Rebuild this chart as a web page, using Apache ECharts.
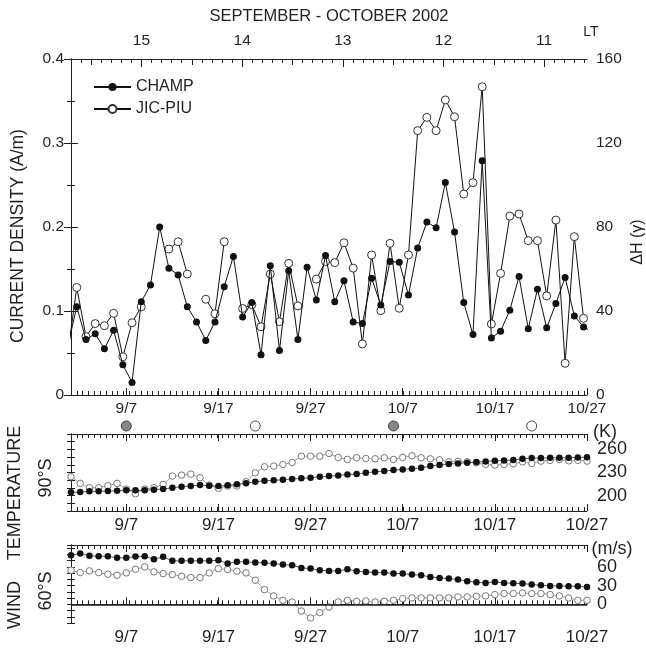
<!DOCTYPE html>
<html>
<head>
<meta charset="utf-8">
<script src="https://cdn.jsdelivr.net/npm/echarts@6/dist/echarts.min.js"></script>
<style>
  html, body { margin: 0; padding: 0; background: #fff; }
  #chart { width: 646px; height: 652px; }
</style>
</head>
<body>
<div id="chart"></div>
<script>
// ---------------- data ----------------
const dateTicks = ['9/7', '9/17', '9/27', '10/7', '10/17', '10/27'];
const ltHours = [15, 14, 13, 12, 11];
const newMoons = ['9/7', '10/6'];
const fullMoons = ['9/21', '10/21'];

// Daily values at the satellite pass (about 15 UT), 31 Aug .. 27 Oct 2002
const passFirstDay = '8/31';
const passHour = 15;
// Equatorial current density from CHAMP, A/m
const champCurrent = [
  0.057,
  0.105, 0.066, 0.073, 0.055, 0.077, 0.036, 0.015, 0.111, 0.131, 0.200,
  0.151, 0.143, 0.105, 0.087, 0.065, 0.087, 0.129, 0.165, 0.093, 0.110,
  0.048, 0.154, 0.053, 0.148, 0.066, 0.152, 0.113, 0.166, 0.111, 0.136,
  0.087, 0.085, 0.139, 0.107, 0.159, 0.158, 0.119, 0.175, 0.206, 0.199,
  0.253, 0.194, 0.110, 0.072, 0.279, 0.068, 0.076, 0.101, 0.141, 0.079,
  0.126, 0.080, 0.109, 0.140, 0.094, 0.081,
  0.075
];
// Ground magnetometer ΔH, Jicamarca minus Piura, γ (null = no record)
const jicPiuDeltaH = [
  19.0,
  51.2, 27.8, 34.0, 33.0, 38.9, 18.2, 34.4, 42.0, null, null,
  69.5, 73.0, 57.6, null, 45.6, 38.7, 73.0, null, 41.2, 43.0,
  32.5, 57.6, 34.9, 62.7, 42.4, null, 55.2, 63.5, 63.0, 72.5,
  60.4, 24.3, 66.7, 40.2, 72.2, 41.3, 66.7, 125.9, 132.2, 125.9,
  140.5, 132.5, 95.7, 101.1, 146.8, 33.8, 57.9, 85.2, 86.2, 73.5,
  73.5, 47.2, 83.3, 15.1, 75.4, 36.5,
  null
];

// Daily stratospheric values at 00 UT, 1 Sep .. 27 Oct 2002
const dailyFirstDay = '9/1';
// Polar (90°S) temperature, K
const tempSeriesA = [
  204.2, 204.6, 205.5, 205.5, 205.9, 206.3, 206.8, 206.8, 206.8, 207.6,
  208.5, 210.2, 211.5, 212.4, 213.7, 212.8, 212.4, 213.3, 214.6, 215.9,
  218.0, 219.3, 219.8, 220.6, 221.5, 222.4, 223.2, 224.5, 225.3, 226.2,
  227.5, 227.9, 229.6, 230.9, 231.8, 233.1, 234.0, 234.8, 236.1, 238.3,
  239.6, 240.9, 241.8, 242.6, 243.5, 244.4, 245.2, 245.7, 246.1, 247.8,
  248.7, 248.7, 249.1, 249.1, 249.1, 249.6, 249.9
];
const tempSeriesB = [
  224.5, 215.9, 210.2, 210.2, 212.8, 215.9, 208.5, 202.4, 208.5, 210.2,
  214.6, 225.3, 226.6, 227.9, 223.2, 213.7, 209.4, 212.4, 212.4, 218.0,
  229.6, 237.4, 238.3, 240.5, 243.0, 251.2, 251.2, 251.2, 254.7, 249.6,
  247.0, 249.1, 248.2, 247.8, 249.1, 246.9, 249.6, 251.7, 249.1, 247.8,
  246.5, 243.9, 244.4, 243.9, 242.6, 240.5, 239.6, 240.5, 241.3, 243.9,
  241.8, 244.8, 245.7, 246.9, 245.2, 245.7, 244.8
];
// Zonal wind at 60°S, m/s
const windSeriesA = [
  78.7, 81.3, 77.6, 77.0, 77.0, 74.4, 74.4, 76.5, 77.0, 72.2,
  76.0, 69.6, 69.6, 69.6, 69.6, 69.6, 70.6, 65.3, 68.0, 68.0,
  66.9, 66.4, 65.3, 63.7, 62.6, 58.3, 57.2, 54.6, 53.5, 53.5,
  56.2, 53.0, 51.9, 50.8, 50.8, 49.2, 49.2, 47.6, 46.5, 43.9,
  42.3, 41.2, 39.6, 36.9, 35.3, 34.2, 35.8, 34.2, 33.7, 33.2,
  31.6, 30.5, 29.4, 29.4, 28.9, 28.9, 27.8
];
const windSeriesB = [
  54.6, 50.8, 53.5, 50.8, 48.2, 46.5, 50.3, 56.2, 59.9, 51.9,
  49.2, 47.6, 44.9, 42.8, 42.8, 50.3, 57.2, 55.6, 53.0, 50.3,
  38.5, 23.5, 13.4, 6.4, 3.7, -10.7, -21.9, -13.4, -4.3, 3.7,
  6.4, 4.8, 5.3, 3.7, 4.8, 6.4, 9.1, 10.2, 10.2, 10.2,
  10.2, 10.2, 11.8, 11.8, 12.8, 13.4, 15.5, 17.1, 17.1, 18.2,
  17.1, 17.1, 15.5, 13.4, 10.2, 6.4, 6.4
];

// ---------------- helpers ----------------
const FONT = '"Liberation Sans", Arial, Helvetica, sans-serif';
const INK = '#231f20';

// days since 1 Sep 2002 00:00
function dayOf(md) {
  const [m, d] = md.split('/').map(Number);
  if (m === 8) return d - 32;
  if (m === 9) return d - 1;
  return d + 29;
}
const X_MIN = dayOf('9/1');
const X_MAX = dayOf('10/27');
// local time of the satellite pass at the two ends of the period
const LT_START = 15.70;
const LT_END = 10.574;
const DAY_TICK_STEP = 0.633;

const tickDays = dateTicks.map(dayOf);
const tickName = {};
dateTicks.forEach(t => { tickName[dayOf(t)] = t; });

// local-time tick marks: hours (long), half hours (medium), tenths (short)
const ltHalfTicks = ltHours.map(h => h + 0.5).filter(h => h < LT_START);
const ltTenthTicks = [];
for (let t = Math.ceil(LT_END * 10); t <= Math.floor(LT_START * 10); t++) {
  if (t % 5 !== 0) ltTenthTicks.push(t / 10);
}

function seriesPoints(values, firstDay, hourOffset) {
  const d0 = dayOf(firstDay) + hourOffset / 24;
  return values.map((v, i) => [d0 + i, v]);
}

const lineW = 1;
const axisLine = { show: true, lineStyle: { color: INK, width: 1 } };
const tick = (len, extra) => Object.assign({ show: true, inside: true, length: len, lineStyle: { color: INK } }, extra || {});

function bareAxis(grid, pos, min, max, extra) {
  return Object.assign({
    type: 'value', gridIndex: grid, position: pos, min, max,
    axisLine: { show: false }, axisLabel: { show: false }, splitLine: { show: false }
  }, extra);
}

function dateAxes(grid, labelSize, topKind) {
  const axes = [];
  axes.push({
    type: 'value', gridIndex: grid, position: 'bottom', min: X_MIN, max: X_MAX,
    axisLine: axisLine,
    axisTick: tick(7, { customValues: tickDays }),
    axisLabel: {
      show: true, customValues: tickDays, formatter: v => tickName[v] || '',
      fontSize: labelSize, fontFamily: FONT, color: INK, margin: 6
    },
    splitLine: { show: false }
  });
  axes.push(bareAxis(grid, 'bottom', X_MIN, X_MAX, { interval: DAY_TICK_STEP, axisTick: tick(4) }));
  if (topKind === 'date') {
    axes.push({
      type: 'value', gridIndex: grid, position: 'top', min: X_MIN, max: X_MAX,
      axisLine: axisLine,
      axisTick: tick(7, { customValues: tickDays }),
      axisLabel: { show: false }, splitLine: { show: false }
    });
    axes.push(bareAxis(grid, 'top', X_MIN, X_MAX, { interval: DAY_TICK_STEP, axisTick: tick(4) }));
  } else {
    axes.push({
      type: 'value', gridIndex: grid, position: 'top', min: LT_END, max: LT_START, inverse: true,
      axisLine: axisLine,
      axisTick: tick(8, { customValues: ltHours }),
      axisLabel: {
        show: true, customValues: ltHours, formatter: v => String(v),
        fontSize: 15.5, fontFamily: FONT, color: INK, margin: 10
      },
      splitLine: { show: false }
    });
    axes.push(bareAxis(grid, 'top', LT_END, LT_START, { inverse: true, axisTick: tick(6, { customValues: ltHalfTicks }) }));
    axes.push(bareAxis(grid, 'top', LT_END, LT_START, { inverse: true, axisTick: tick(4, { customValues: ltTenthTicks }) }));
  }
  return axes;
}

const xAxes = [
  ...dateAxes(0, 15.5, 'lt'),     // 0..4
  ...dateAxes(1, 17, 'date'),     // 5..8
  ...dateAxes(2, 17, 'date'),     // 9..12
  { type: 'value', gridIndex: 3, min: X_MIN, max: X_MAX, show: false } // 13
];
const X_TOP = 0, X_TEMP = 5, X_WIND = 9, X_MOON = 13;

function yAxis(grid, pos, min, max, interval, labels, minorSplit, tickLen) {
  return {
    type: 'value', gridIndex: grid, position: pos, min, max, interval,
    axisLine: axisLine,
    axisTick: tick(tickLen || 7),
    minorTick: minorSplit ? { show: true, splitNumber: minorSplit, length: 4, lineStyle: { color: INK } } : { show: false },
    axisLabel: labels,
    splitLine: { show: false }, minorSplitLine: { show: false }
  };
}

const lbl = (size, extra) => Object.assign({ show: true, fontSize: size, fontFamily: FONT, color: INK }, extra);

const yAxes = [
  yAxis(0, 'left', 0, 0.4, 0.1, lbl(15.5, { margin: 7, formatter: v => (v === 0 ? '0' : v.toFixed(1)) }), 2),
  yAxis(0, 'right', 0, 160, 40, lbl(15.5, { margin: 9 }), 2),
  yAxis(1, 'left', 180, 280, 10, { show: false }, 0, 4),
  yAxis(1, 'right', 180, 280, 10, lbl(18, { margin: 10, customValues: [200, 230, 260] }), 0, 4),
  yAxis(2, 'left', -30, 95, 10, { show: false }, 0, 4),
  yAxis(2, 'right', -30, 95, 10, lbl(18, { margin: 10, customValues: [0, 30, 60] }), 0, 4),
  { type: 'value', gridIndex: 3, min: 0, max: 1, show: false }
];

const filledDot = (size) => ({
  symbol: 'circle', symbolSize: size,
  itemStyle: { color: '#111', borderWidth: 0 }
});
const openDot = (size, stroke) => ({
  symbol: 'circle', symbolSize: size,
  itemStyle: { color: '#fff', borderColor: stroke, borderWidth: 1 }
});

const series = [
  Object.assign({
    name: 'JIC-PIU', type: 'line', xAxisIndex: X_TOP, yAxisIndex: 1,
    data: seriesPoints(jicPiuDeltaH, passFirstDay, passHour),
    connectNulls: false, clip: true, showAllSymbol: true,
    lineStyle: { color: '#111', width: lineW }, z: 3
  }, openDot(8, '#333')),
  Object.assign({
    name: 'CHAMP', type: 'line', xAxisIndex: X_TOP, yAxisIndex: 0,
    data: seriesPoints(champCurrent, passFirstDay, passHour),
    clip: true, showAllSymbol: true,
    lineStyle: { color: '#111', width: lineW }, z: 4
  }, filledDot(7)),

  Object.assign({
    type: 'line', xAxisIndex: X_TEMP, yAxisIndex: 3,
    data: seriesPoints(tempSeriesB, dailyFirstDay, 0),
    clip: false, showAllSymbol: true,
    lineStyle: { color: '#888', width: 0.8 }, z: 3
  }, openDot(6.5, '#777')),
  Object.assign({
    type: 'line', xAxisIndex: X_TEMP, yAxisIndex: 3,
    data: seriesPoints(tempSeriesA, dailyFirstDay, 0),
    clip: false, showAllSymbol: true,
    lineStyle: { color: '#333', width: 0.8 }, z: 4
  }, filledDot(6.5)),

  Object.assign({
    type: 'line', xAxisIndex: X_WIND, yAxisIndex: 5,
    data: seriesPoints(windSeriesB, dailyFirstDay, 0),
    clip: false, showAllSymbol: true,
    lineStyle: { color: '#888', width: 0.8 }, z: 3,
    markLine: {
      silent: true, symbol: 'none', label: { show: false },
      lineStyle: { color: '#222', width: 1.5, type: 'solid' },
      data: [{ yAxis: 0 }]
    }
  }, openDot(6.5, '#777')),
  Object.assign({
    type: 'line', xAxisIndex: X_WIND, yAxisIndex: 5,
    data: seriesPoints(windSeriesA, dailyFirstDay, 0),
    clip: false, showAllSymbol: true,
    lineStyle: { color: '#333', width: 0.8 }, z: 4
  }, filledDot(6.5)),

  {
    type: 'scatter', xAxisIndex: X_MOON, yAxisIndex: 6, symbol: 'circle', symbolSize: 10,
    itemStyle: { color: '#6a6a6a', borderColor: '#222', borderWidth: 1 },
    data: newMoons.map(d => [dayOf(d), 0.5])
  },
  {
    type: 'scatter', xAxisIndex: X_MOON, yAxisIndex: 6, symbol: 'circle', symbolSize: 10,
    itemStyle: { color: '#fff', borderColor: '#222', borderWidth: 1 },
    data: fullMoons.map(d => [dayOf(d), 0.5])
  }
];

function text(str, x, y, size, rot) {
  return {
    type: 'text', x, y, rotation: rot || 0,
    style: {
      text: str, fill: INK, font: size + 'px ' + FONT,
      align: 'center', verticalAlign: 'middle',
      textAlign: 'center', textVerticalAlign: 'middle'
    }
  };
}

const graphics = [
  text('SEPTEMBER - OCTOBER 2002', 329, 16, 16.5),
  text('LT', 591, 32, 14),
  text('CURRENT DENSITY (A/m)', 18, 236, 17.5, Math.PI / 2),
  text('ΔH (γ)', 638, 242, 16, Math.PI / 2),
  text('(K)', 605, 432, 18),
  text('(m/s)', 612, 549, 18),
  text('TEMPERATURE', 15, 493, 18, Math.PI / 2),
  text('90°S', 46, 478, 18, Math.PI / 2),
  text('WIND', 15, 605, 18, Math.PI / 2),
  text('60°S', 46, 591, 18, Math.PI / 2)
];

const chart = echarts.init(document.getElementById('chart'), null, { renderer: 'canvas' });
chart.setOption({
  animation: false,
  backgroundColor: '#fff',
  textStyle: { fontFamily: FONT },
  grid: [
    { left: 71, top: 59, width: 516, height: 336 },
    { left: 71, top: 434, width: 516, height: 77 },
    { left: 71, top: 545, width: 516, height: 78 },
    { left: 71, top: 421, width: 516, height: 10 }
  ],
  legend: {
    data: ['CHAMP', 'JIC-PIU'], orient: 'vertical', left: 88, top: 74,
    itemWidth: 37, itemHeight: 10, itemGap: 6,
    textStyle: { fontSize: 16, fontFamily: FONT, color: INK },
    selectedMode: false
  },
  xAxis: xAxes,
  yAxis: yAxes,
  series: series,
  graphic: graphics
});
</script>
</body>
</html>
